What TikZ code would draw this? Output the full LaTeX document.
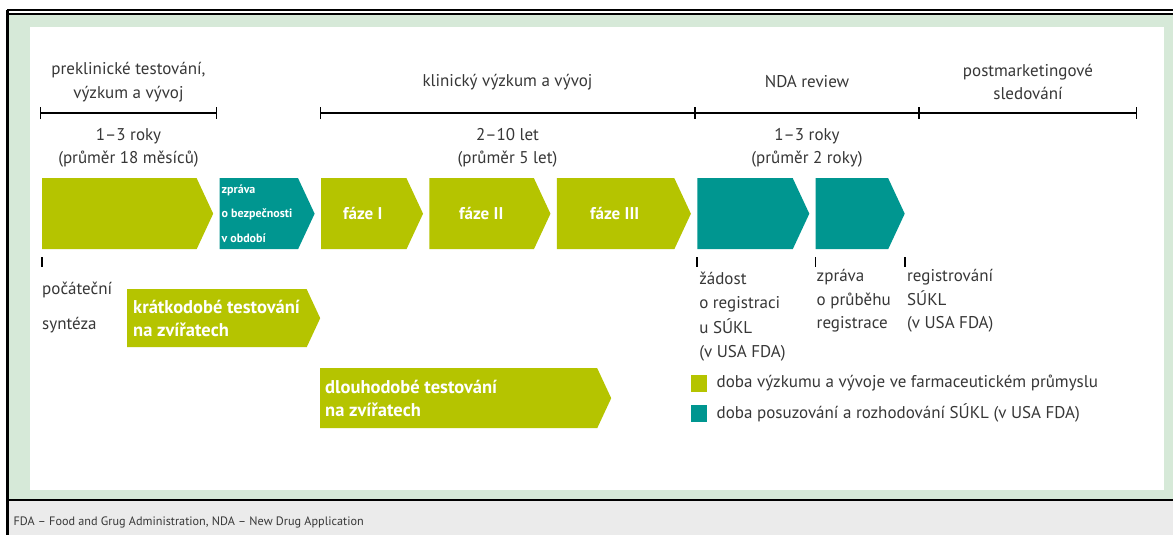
\documentclass[tikz,border=0pt]{standalone}
\usepackage{fontspec}
\setmainfont{PT Sans}
\usetikzlibrary{shapes.symbols,positioning,arrows.meta,calc}

\definecolor{fgreen}{RGB}{181,196,0}
\definecolor{fteal}{RGB}{0,150,144}
\definecolor{mint}{RGB}{214,233,216}
\definecolor{footgray}{RGB}{235,235,235}
\definecolor{txt}{RGB}{55,55,55}

\tikzset{
  chev/.style={signal, signal to=east, signal pointer angle=130, inner sep=0pt, minimum height=71pt},
  span/.style={line width=1.3pt, {Bar[width=12pt]}-{Bar[width=12pt]}},
  tick/.style={line width=1.3pt},
  chevtext/.style={text=white, font=\bfseries\fontsize{17}{24}\selectfont},
  lab/.style={align=left, inner sep=0pt, anchor=north west},
  legsq/.style={minimum width=16pt, minimum height=17pt, inner sep=0pt}
}

\begin{document}
\begin{tikzpicture}[x=1pt, y=1pt, node distance=6pt, font=\fontsize{17}{23.5}\selectfont, text=txt]
  \useasboundingbox (0,0) rectangle (1173,-535);
  % frame
  \fill[mint] (9,-13) rectangle (1173,-500);
  \fill[white] (30,-27) rectangle (1164,-490);
  \fill[footgray] (9,-501) rectangle (1173,-535);
  \draw[line width=2pt] (7,-10.5) -- (1173,-10.5);
  \draw[line width=1.5pt] (9,-14) -- (1173,-14);
  \draw[line width=2.5pt] (7.5,-10) -- (7.5,-535);
  \draw[line width=2pt] (8,-500) -- (1173,-500);

  % time line
  \coordinate (p0) at (40,-113);
  \coordinate (p1) at (217,-113);
  \coordinate (c0) at (320,-113);
  \coordinate (c1) at (695,-113);
  \coordinate (c2) at (919,-113);
  \coordinate (c3) at (1137,-113);
  \draw[span] (p0) -- (p1);
  \draw[span] (c0) -- (c3);
  \foreach \t in {c1,c2}
    \draw[tick] ([yshift=6pt]\t) -- ([yshift=-6pt]\t);

  \node[align=center] (pre) at ($(p0)!.5!(p1)+(0,31)$) {preklinické testování,\\výzkum a vývoj};
  \node[align=center] (kli) at ($(c0)!.5!(c1)+(0,31)$) {klinický výzkum a vývoj};
  \node[align=center] (nda) at ($(c1)!.5!(c2)+(0,31)$) {NDA review};
  \node[align=center] (post) at ($(c2)!.5!(c3)+(0,31)$) {postmarketingové\\sledování};

  \node[align=center] (dpre) at ($(p0)!.5!(p1)+(0,-35)$) {1–3 roky\\(průměr 18 měsíců)};
  \node[align=center] (dkli) at ($(c0)!.5!(c1)+(0,-35)$) {2–10 let\\(průměr 5 let)};
  \node[align=center] (dnda) at ($(c1)!.5!(c2)+(0,-35)$) {1–3 roky\\(průměr 2 roky)};

  % phases
  \node[chev, fill=fgreen, minimum width=171pt, anchor=north west] (a1) at (42,-178) {};
  \node[chev, fill=fteal, minimum width=95pt, right=of a1] (a2) {};
  \node[chev, fill=fgreen, minimum width=102pt, right=of a2] (a3) {};
  \node[chev, fill=fgreen, minimum width=121pt, right=of a3] (a4) {};
  \node[chev, fill=fgreen, minimum width=134pt, right=of a4] (a5) {};
  \node[chev, fill=fteal, minimum width=112pt, right=of a5] (a6) {};
  \node[chev, fill=fteal, minimum width=89pt, right=of a6] (a7) {};

  \node[chevtext, font=\bfseries\fontsize{12}{24.5}\selectfont, align=left, anchor=west, inner sep=0pt]
    (t2) at ([xshift=2pt]a2.west) {zpráva\\o bezpečnosti\\v období};
  \node[chevtext] (t3) at ([xshift=42pt]a3.west) {fáze I};
  \node[chevtext] (t4) at ([xshift=52pt]a4.west) {fáze II};
  \node[chevtext] (t5) at ([xshift=58pt]a5.west) {fáze III};

  \node[chev, fill=fgreen, minimum width=193pt, minimum height=58pt, anchor=north west] (kr) at (127,-289) {};
  \node[chevtext, font=\bfseries\fontsize{18.5}{23}\selectfont, align=left, anchor=west, inner sep=0pt]
    (tkr) at ([xshift=6pt]kr.west) {krátkodobé testování\\na zvířatech};
  \node[chev, fill=fgreen, minimum width=291pt, minimum height=60pt, anchor=north west] (dl) at (320,-368) {};
  \node[chevtext, font=\bfseries\fontsize{18.5}{23}\selectfont, align=left, anchor=west, inner sep=0pt]
    (tdl) at ([xshift=5pt]dl.west) {dlouhodobé testování\\na zvířatech};

  % milestones
  \coordinate (m1) at ([yshift=-8pt]a1.south west);
  \coordinate (m2) at ([yshift=-8pt]a6.south west);
  \coordinate (m3) at ([yshift=-8pt]a7.south west);
  \coordinate (m4) at ([yshift=-8pt]a7.east |- a7.south);
  \foreach \m in {m1,m2,m3,m4}
    \draw[tick] (\m) -- ++(0,-10);

  \node[lab, font=\fontsize{17}{35}\selectfont] (syn) at ([yshift=-24pt]m1) {počáteční\\syntéza};
  \node[lab, font=\fontsize{17}{24.5}\selectfont] (zad) at ([xshift=2pt,yshift=-14pt]m2) {žádost\\o registraci\\u SÚKL\\(v USA FDA)};
  \node[lab] (zpr) at ([xshift=1pt,yshift=-12pt]m3) {zpráva\\o průběhu\\registrace};
  \node[lab] (reg) at ([xshift=2pt,yshift=-12pt]m4) {registrování\\SÚKL\\(v USA FDA)};

  % legend
  \node[legsq, fill=fgreen] (l1) at (699,-383) {};
  \node[legsq, fill=fteal] (l2) at (699,-413) {};
  \node[right=6pt of l1] (tl1) {doba výzkumu a vývoje ve farmaceutickém průmyslu};
  \node[right=6pt of l2] (tl2) {doba posuzování a rozhodování SÚKL (v USA FDA)};

  % footnote
  \node[anchor=west, font=\fontsize{12.2}{16}\selectfont] (fn) at (10,-522)
    {FDA – Food and Grug Administration, NDA – New Drug Application};
\end{tikzpicture}
\end{document}
